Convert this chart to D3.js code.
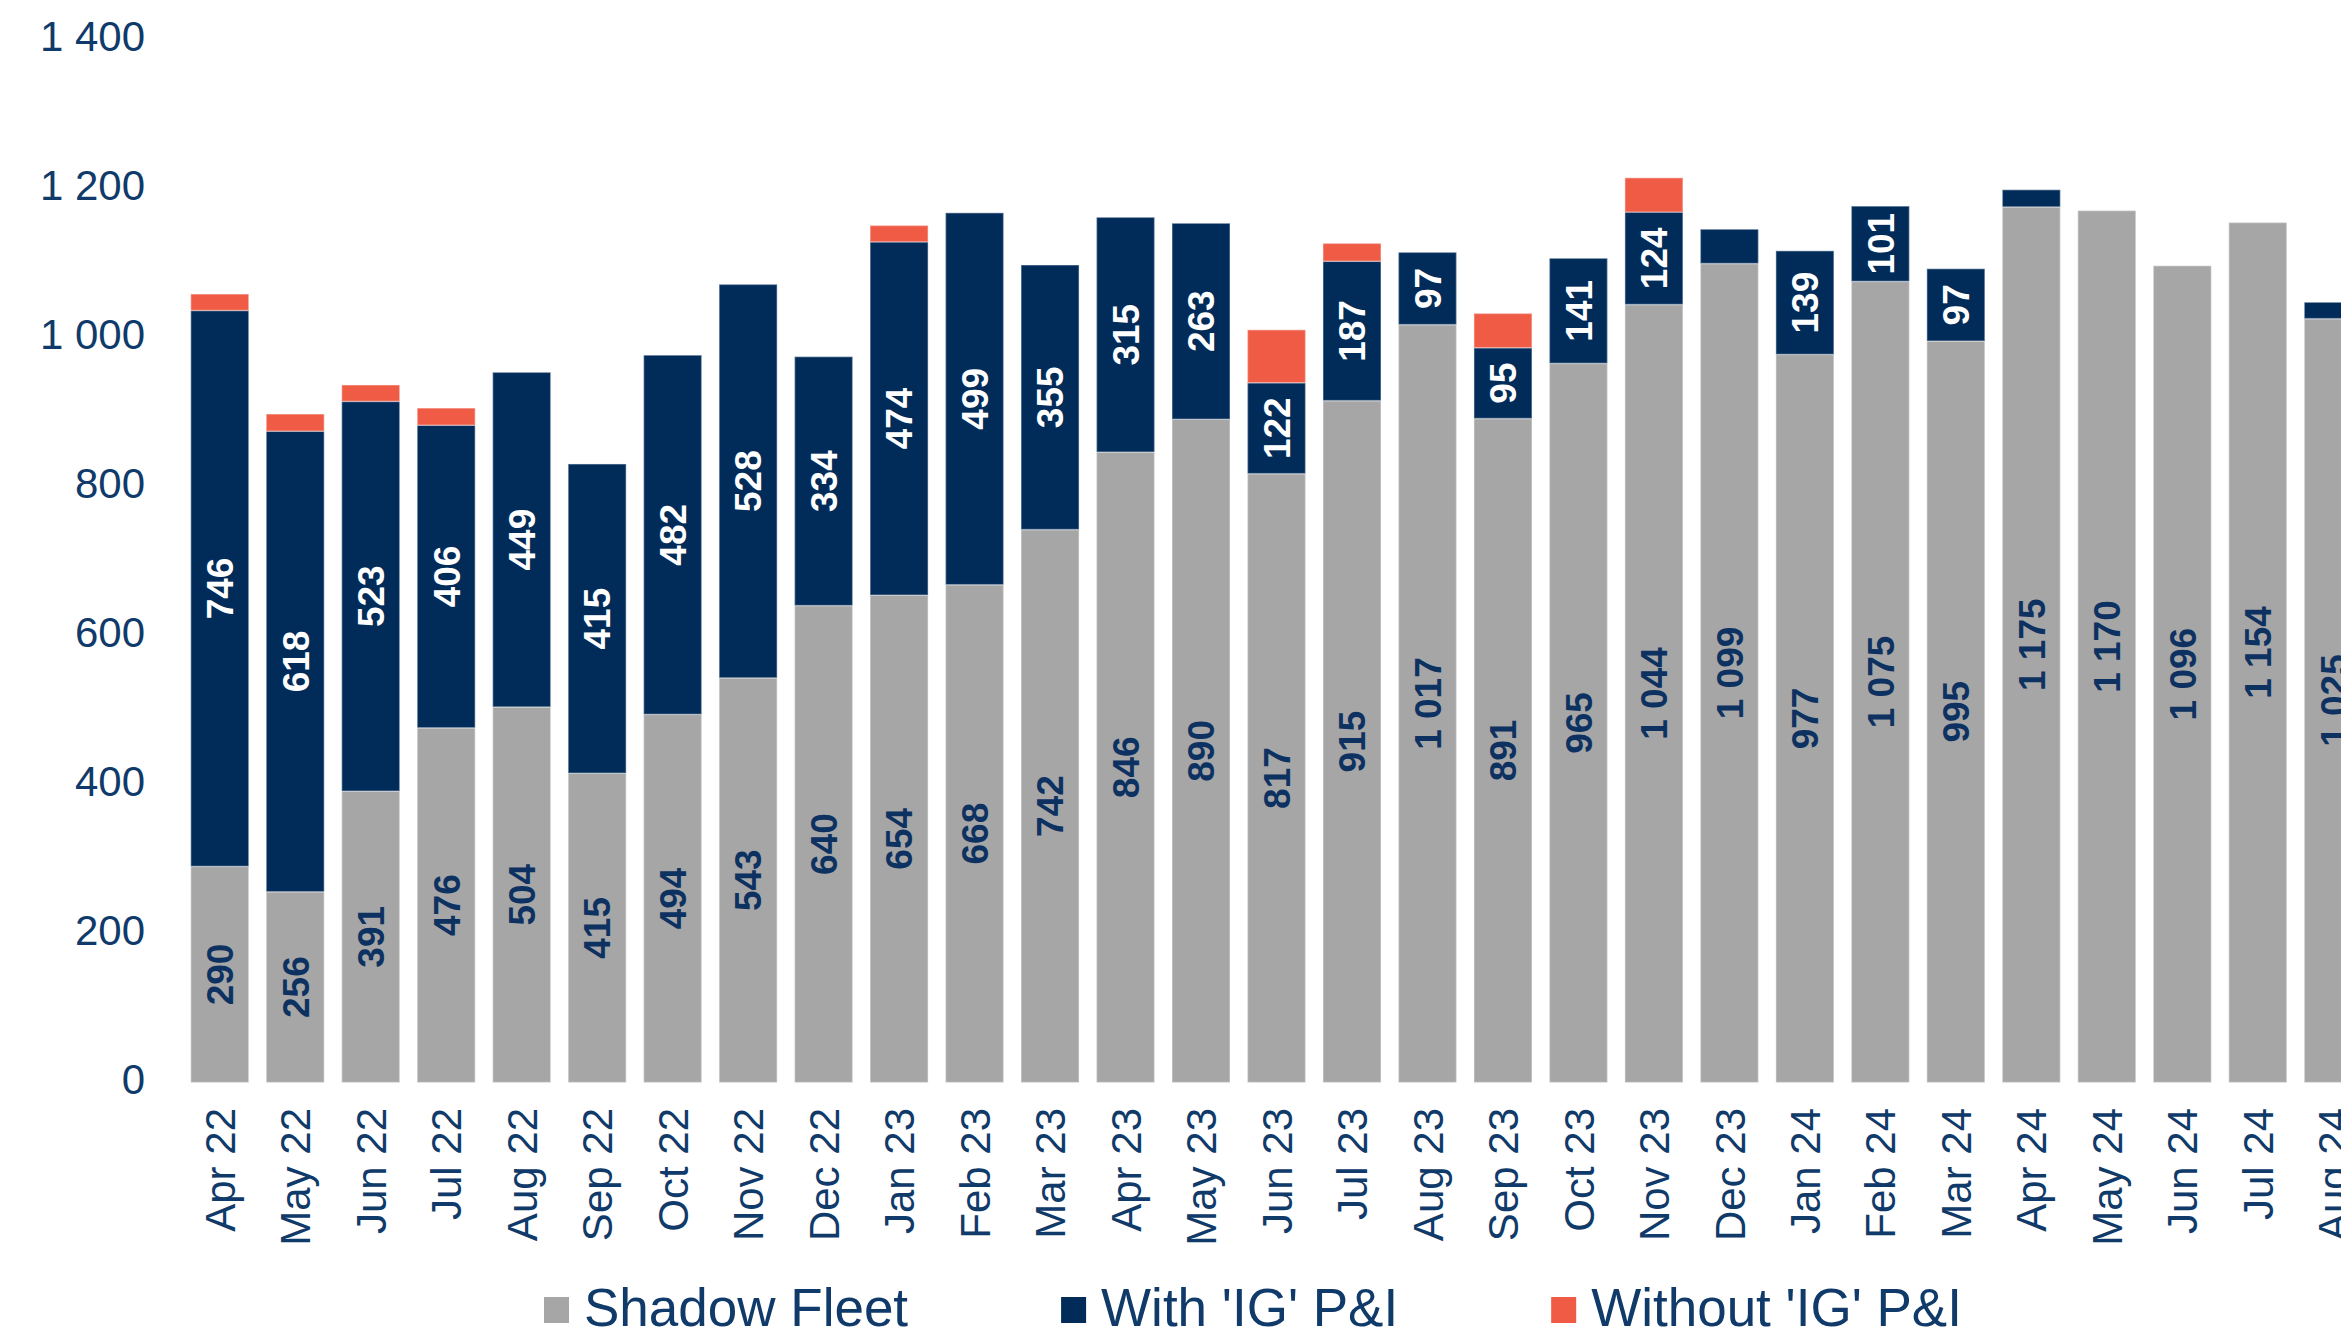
<!DOCTYPE html>
<html>
  <head>
    <meta charset="utf-8">
    <style>
      body { margin: 0; padding: 0; background: #fff; }
      svg { display: block; font-family: "Liberation Sans", Arial, sans-serif; }
    </style>
  </head>
  <body>
    <div id="chart"></div>
    <script src="https://cdnjs.cloudflare.com/ajax/libs/d3/7.8.5/d3.min.js"></script>
    <script>
      var months = ["Apr 22", "May 22", "Jun 22", "Jul 22", "Aug 22", "Sep 22", "Oct 22", "Nov 22", "Dec 22",
                    "Jan 23", "Feb 23", "Mar 23", "Apr 23", "May 23", "Jun 23", "Jul 23", "Aug 23", "Sep 23",
                    "Oct 23", "Nov 23", "Dec 23", "Jan 24", "Feb 24", "Mar 24", "Apr 24", "May 24", "Jun 24",
                    "Jul 24", "Aug 24"];
      var shadowFleet = [290, 256, 391, 476, 504, 415, 494, 543, 640, 654, 668, 742, 846, 890, 817, 915, 1017, 891,
                         965, 1044, 1099, 977, 1075, 995, 1175, 1170, 1096, 1154, 1025];
      var withIG = [746, 618, 523, 406, 449, 415, 482, 528, 334, 474, 499, 355, 315, 263, 122, 187, 97, 95,
                    141, 124, 46, 139, 101, 97, 23, 0, 0, 0, 22];
      var withoutIG = [22, 23, 22, 23, 0, 0, 0, 0, 0, 22, 0, 0, 0, 0, 71, 24, 0, 46,
                       0, 46, 0, 0, 0, 0, 0, 0, 0, 0, 0];
      var seriesNames = ["Shadow Fleet", "With 'IG' P&I", "Without 'IG' P&I"];
      var yTicks = [0, 200, 400, 600, 800, 1000, 1200, 1400];

      var W = 2341, H = 1335;
      var textColor = "#0f3a69";
      var colors = ["#a6a6a6", "#012c5a", "#ef5b45"];
      var labelColors = ["#0d3262", "#ffffff", "#ffffff"];

      var rows = months.map((m, i) => ({month: m, s0: shadowFleet[i], s1: withIG[i], s2: withoutIG[i]}));
      var stack = d3.stack().keys(["s0", "s1", "s2"]);
      var stacked = stack(rows);

      var svg = d3.select("#chart").append("svg")
          .attr("width", W)
          .attr("height", H);

      var x = d3.scaleBand()
          .domain(months)
          .range([182, 2371])
          .paddingInner(0.2315)
          .paddingOuter(0.1157);
      var y = d3.scaleLinear()
          .domain([0, 1400])
          .range([1082.5, 39.2]);

      var fmt = v => d3.format(",")(v).replace(/,/g, " ");

      // y axis labels (no line, no ticks)
      svg.append("g")
          .selectAll("text")
          .data(yTicks)
          .enter().append("text")
            .attr("x", 145)
            .attr("y", d => y(d))
            .attr("dy", "0.28em")
            .attr("text-anchor", "end")
            .attr("font-size", 42)
            .attr("fill", textColor)
            .text(fmt);

      // bars
      var layers = svg.append("g")
        .selectAll("g")
        .data(stacked)
        .enter().append("g")
          .attr("fill", (d, i) => colors[i]);

      layers.selectAll("rect")
        .data(d => d)
        .enter().append("rect")
          .filter(d => d[1] - d[0] > 0)
          .attr("x", d => x(d.data.month))
          .attr("y", d => y(d[1]))
          .attr("width", x.bandwidth())
          .attr("height", d => y(d[0]) - y(d[1]))
          .attr("stroke", "#ffffff")
          .attr("stroke-opacity", 0.35)
          .attr("stroke-width", 1.5);

      // value labels inside the segments
      stacked.forEach(function (layer, li) {
        if (li === 2) return;
        svg.append("g")
          .selectAll("text")
          .data(layer.filter(d => d[1] - d[0] >= 90))
          .enter().append("text")
            .attr("transform", d => "translate(" + (x(d.data.month) + x.bandwidth() / 2) + "," +
                  (y(d[0]) + y(d[1])) / 2 + ") rotate(-90)")
            .attr("dy", "0.36em")
            .attr("text-anchor", "middle")
            .attr("font-size", 37)
            .attr("font-weight", "bold")
            .attr("fill", labelColors[li])
            .text(d => fmt(d[1] - d[0]));
      });

      // x axis labels
      var xAxis = svg.append("g")
          .attr("transform", "translate(0,1108)")
          .call(d3.axisBottom(x).tickSize(0).tickPadding(0));
      xAxis.select(".domain").remove();
      xAxis.selectAll(".tick text")
          .attr("transform", "rotate(-90)")
          .attr("x", 0)
          .attr("y", 0)
          .attr("dy", "0.36em")
          .attr("text-anchor", "end")
          .attr("font-family", "Liberation Sans, Arial, sans-serif")
          .attr("font-size", 42)
          .attr("fill", textColor);

      // legend
      var legend = svg.append("g").attr("transform", "translate(544,1297)");
      var lx = 0;
      seriesNames.forEach(function (name, i) {
        var item = legend.append("g").attr("transform", "translate(" + lx + ",0)");
        item.append("rect")
          .attr("width", 25)
          .attr("height", 26)
          .attr("fill", colors[i]);
        var t = item.append("text")
          .attr("x", 40)
          .attr("y", 29)
          .attr("font-size", 53)
          .attr("fill", textColor)
          .text(name);
        lx += 40 + t.node().getComputedTextLength() + 153;
      });
    </script>
  </body>
</html>
